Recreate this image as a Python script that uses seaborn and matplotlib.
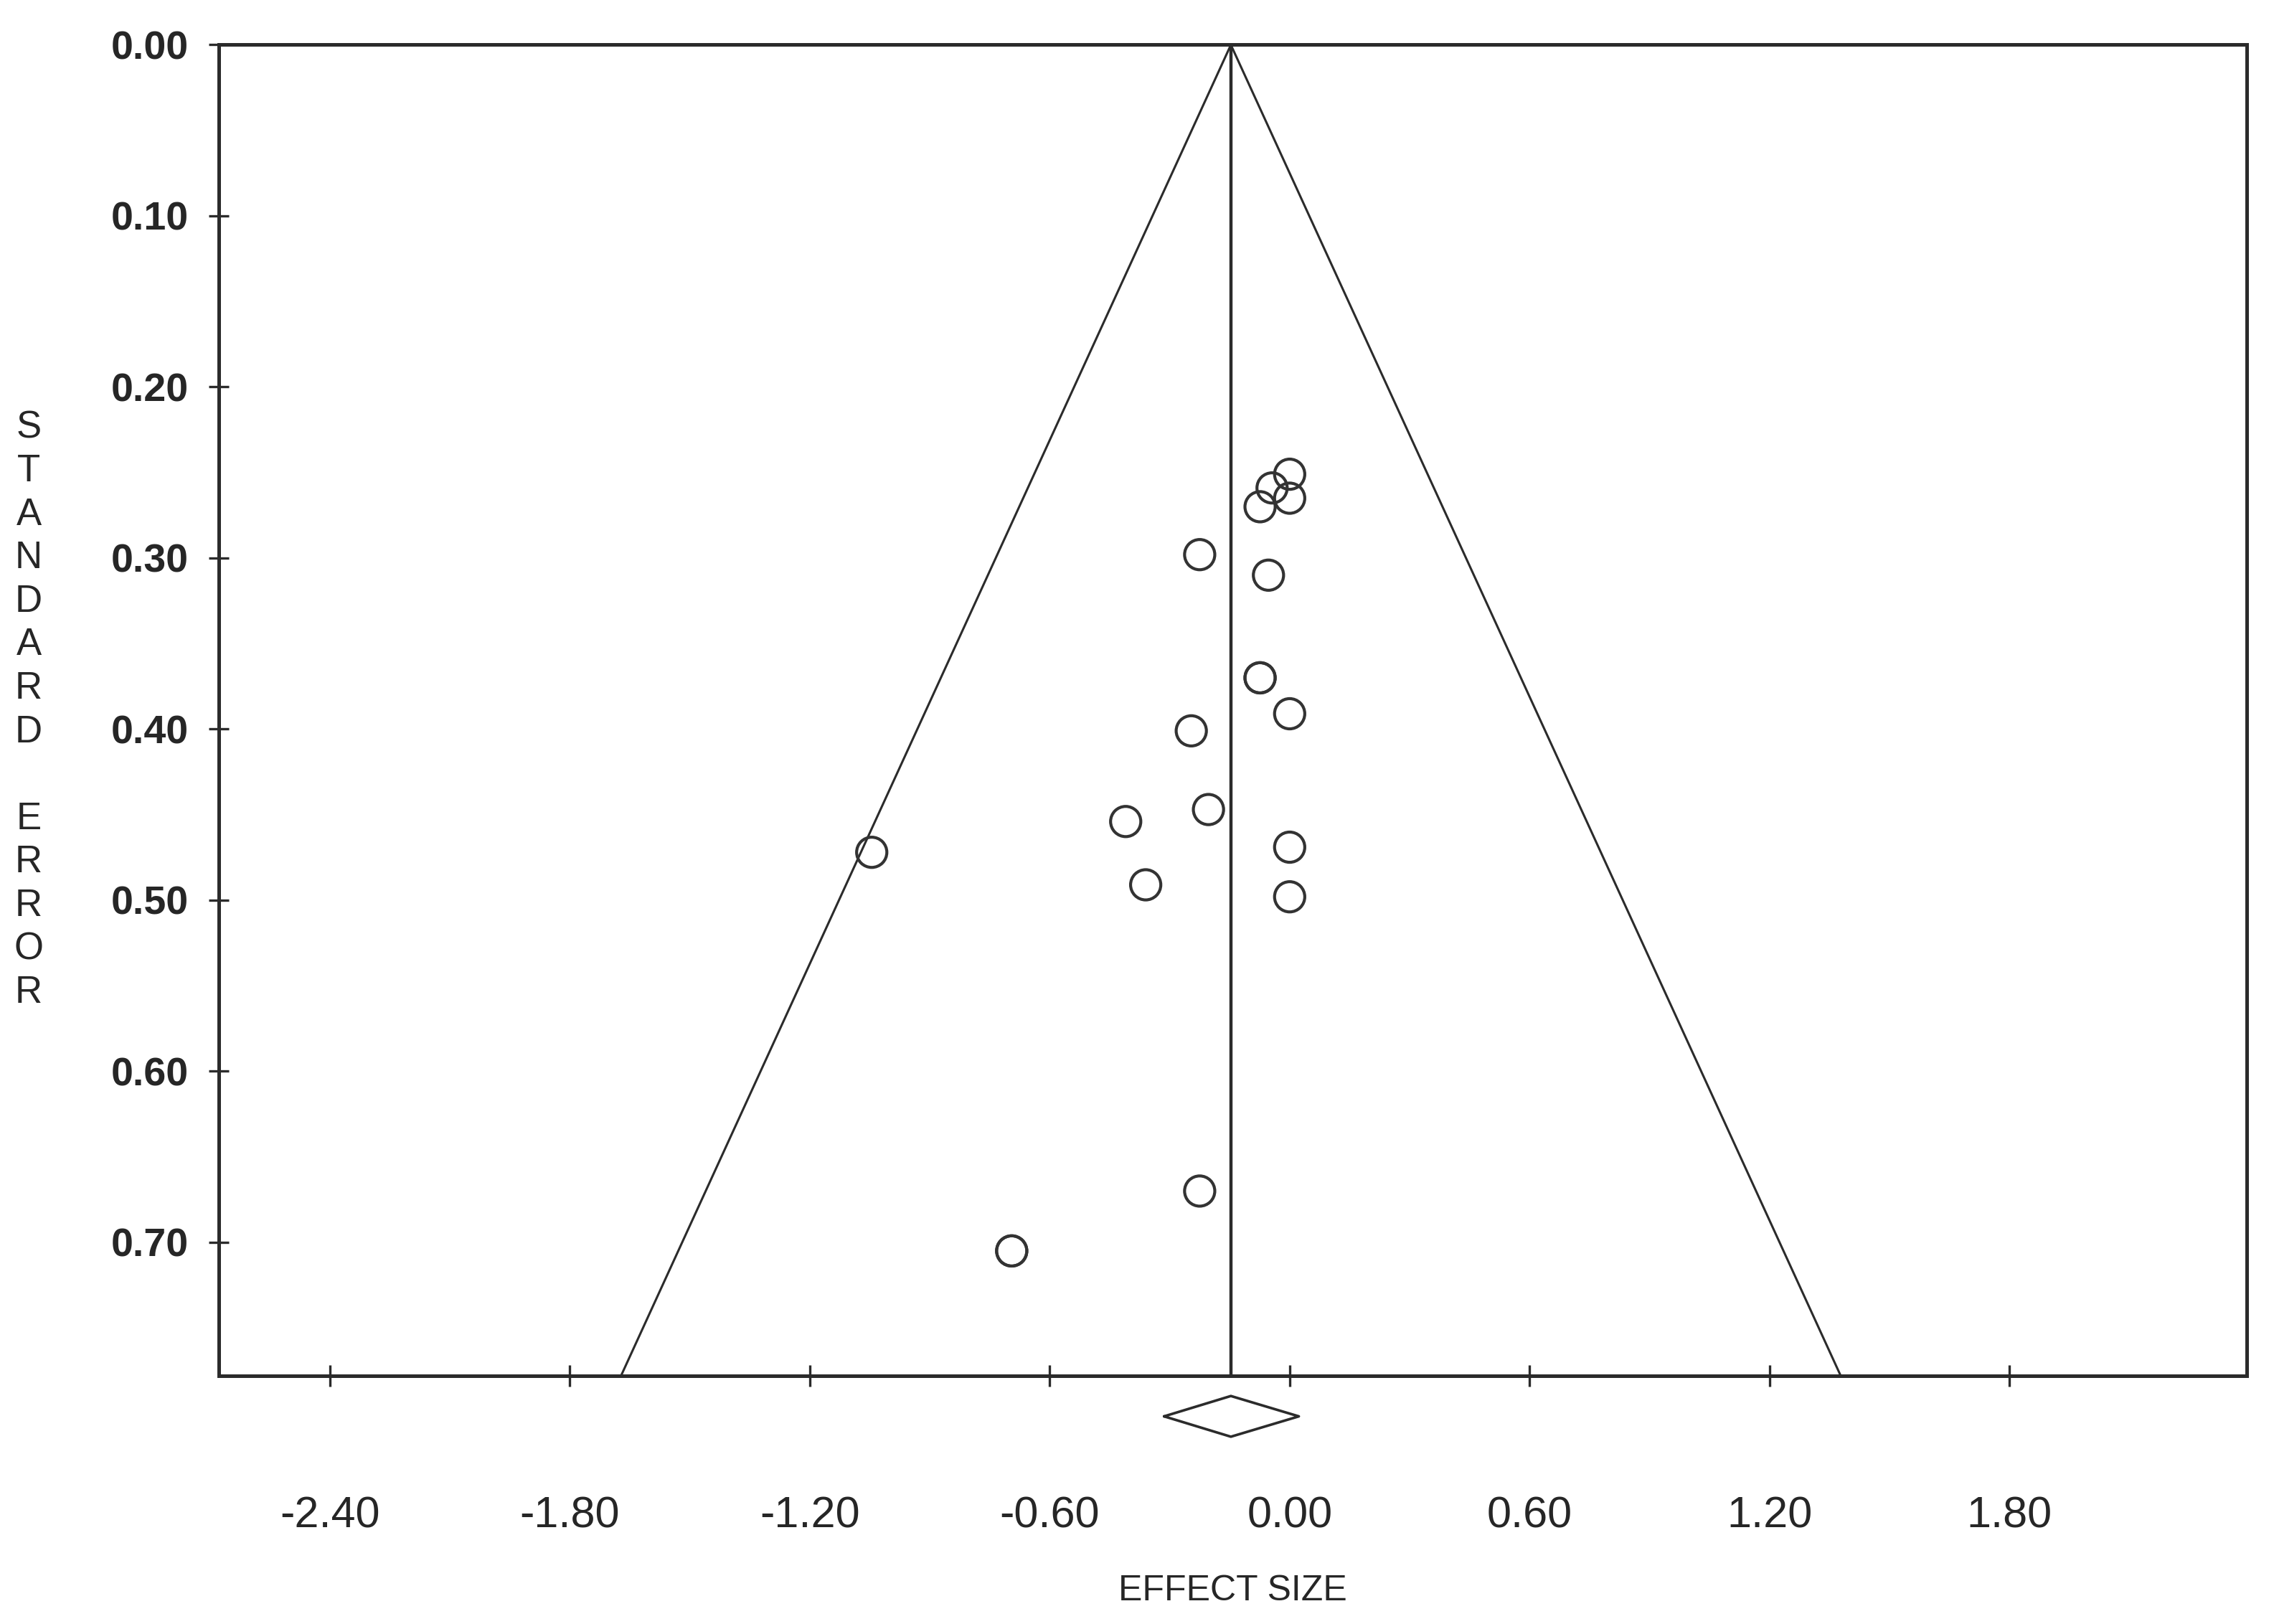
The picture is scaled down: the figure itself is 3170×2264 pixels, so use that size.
import numpy as np
import pandas as pd
import matplotlib
matplotlib.use("Agg")
import matplotlib.pyplot as plt
import seaborn as sns
from matplotlib.ticker import FormatStrFormatter

# study effect sizes and standard errors
effect = [0.00, -0.044, 0.00, -0.074, -0.225, -0.053, -0.074, -0.074, 0.00, -0.246,
          -0.203, -0.410, 0.00, -0.360, 0.00, -1.045, -0.225, -0.695, -0.695]
std_err = [0.251, 0.259, 0.265, 0.270, 0.298, 0.310, 0.370, 0.370, 0.391, 0.401,
           0.447, 0.454, 0.469, 0.491, 0.498, 0.472, 0.670, 0.705, 0.705]

# pooled estimate and its confidence interval (diamond)
pooled = -0.147
ci_low = -0.314
ci_high = 0.023

x_ticks = [-2.40, -1.80, -1.20, -0.60, 0.00, 0.60, 1.20, 1.80]
y_ticks = [0.00, 0.10, 0.20, 0.30, 0.40, 0.50, 0.60, 0.70]
se_max = 0.778

df = pd.DataFrame({"effect": effect, "se": std_err})

sns.set_style("white")
plt.rcParams["font.family"] = ["Liberation Sans", "DejaVu Sans"]
plt.rcParams["axes.unicode_minus"] = False

fig = plt.figure(figsize=(15.85, 11.32), dpi=200)
ax = fig.add_axes([0.09615, 0.15283, 0.89202, 0.81957])

line_col = "#2b2b2b"

# funnel
ax.plot([pooled - 1.96 * se_max, pooled, pooled + 1.96 * se_max], [se_max, 0, se_max],
        color=line_col, lw=1.1)
# pooled effect line
ax.plot([pooled, pooled], [0, se_max], color=line_col, lw=1.6)

sns.scatterplot(data=df, x="effect", y="se", ax=ax, marker="o", s=230,
                facecolor="none", edgecolor="#333333", linewidth=1.5, zorder=3)

# diamond under the axis
dy = 0.0119
dcy = 0.8017
ax.plot([ci_low, pooled, ci_high, pooled, ci_low],
        [dcy, dcy - dy, dcy, dcy + dy, dcy],
        color=line_col, lw=1.3, clip_on=False)

ax.set_xlim(-2.678, 2.394)
ax.set_ylim(se_max, 0)

ax.set_xticks(x_ticks)
ax.set_yticks(y_ticks)
ax.xaxis.set_major_formatter(FormatStrFormatter("%.2f"))
ax.yaxis.set_major_formatter(FormatStrFormatter("%.2f"))

ax.tick_params(axis="x", bottom=True, direction="inout", length=10.8, width=1.2,
               color=line_col, pad=55, labelsize=22)
ax.tick_params(axis="y", left=True, direction="inout", length=10, width=1.2,
               color=line_col, pad=10, labelsize=20)
for lab in ax.get_yticklabels():
    lab.set_fontweight("bold")

for sp in ax.spines.values():
    sp.set_color(line_col)
    sp.set_linewidth(1.8)

ax.set_xlabel("EFFECT SIZE", fontsize=18, va="center")
ax.xaxis.set_label_coords(0.5, -0.1617)
ax.set_ylabel("\n".join("STANDARD ERROR"), fontsize=19, rotation=0,
              ha="center", va="center", linespacing=1.27)
ax.yaxis.set_label_coords(-0.0936, 0.5)

fig.savefig("out.png", dpi=200)
